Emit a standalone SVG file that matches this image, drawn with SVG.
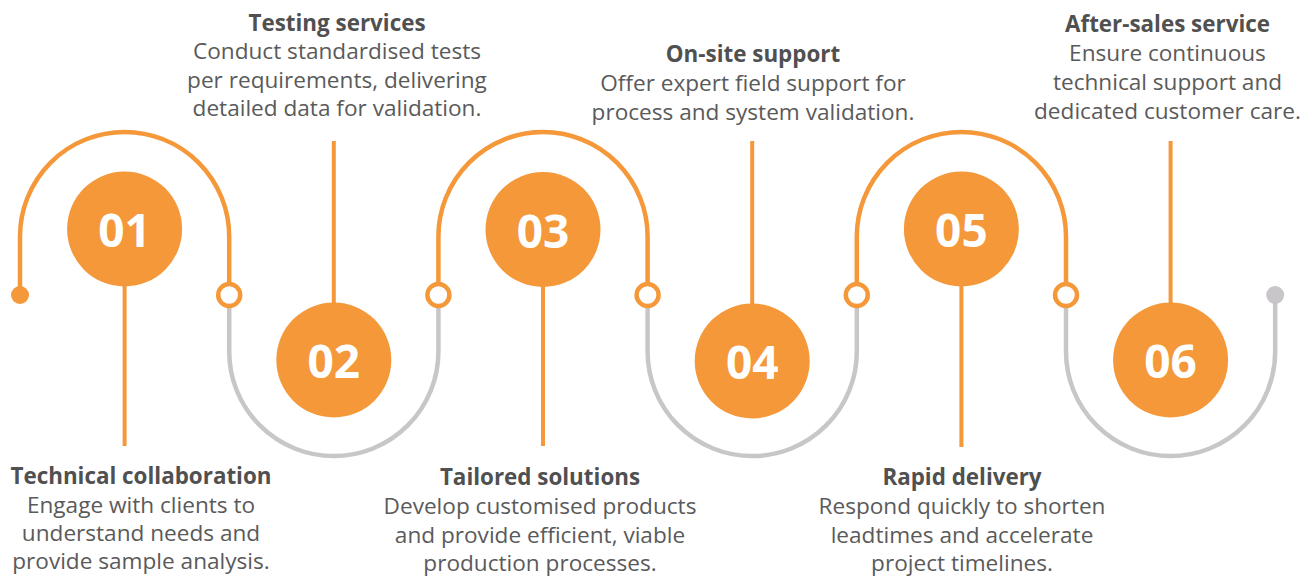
<svg xmlns="http://www.w3.org/2000/svg" width="1312" height="579" viewBox="0 0 1312 579">
<style>
.or{fill:none;stroke:#F4983A;stroke-width:4.5}
.gr{fill:none;stroke:#C8C6C8;stroke-width:4.5}
.stem{stroke:#F4983A;stroke-width:4}
.ring{fill:#fff;stroke:#F4983A;stroke-width:4.5}
.disc{fill:#F4983A}
.num{font-family:"Open Sans","Noto Sans",sans-serif;font-weight:700;font-size:46px;fill:#fff;text-anchor:middle}
.t{font-family:"Open Sans","Noto Sans",sans-serif;font-weight:700;font-size:22.4px;fill:#505050;text-anchor:middle}
.b{font-family:"Open Sans","Noto Sans",sans-serif;font-size:22.6px;fill:#5a5a5a;text-anchor:middle}
</style>
<rect width="1312" height="579" fill="#fff"/>
<g id="connectors">
<path class="or" d="M20 295 L20 236.5 A104.6 104.6 0 0 1 229.2 236.5 L229.2 295"/>
<path class="gr" d="M229.2 295 L229.2 351.5 A104.6 104.6 0 0 0 438.4 351.5 L438.4 295"/>
<path class="or" d="M438.4 295 L438.4 236.5 A104.6 104.6 0 0 1 647.6 236.5 L647.6 295"/>
<path class="gr" d="M647.6 295 L647.6 351.5 A104.6 104.6 0 0 0 856.8 351.5 L856.8 295"/>
<path class="or" d="M856.8 295 L856.8 236.5 A104.6 104.6 0 0 1 1066 236.5 L1066 295"/>
<path class="gr" d="M1066 295 L1066 351.5 A104.6 104.6 0 0 0 1275.2 351.5 L1275.2 295"/>
<line class="stem" x1="124.6" y1="280" x2="124.6" y2="446"/>
<line class="stem" x1="333.8" y1="141" x2="333.8" y2="310"/>
<line class="stem" x1="543" y1="280" x2="543" y2="446"/>
<line class="stem" x1="752.2" y1="141" x2="752.2" y2="310"/>
<line class="stem" x1="961.4" y1="280" x2="961.4" y2="447"/>
<line class="stem" x1="1170.6" y1="141" x2="1170.6" y2="310"/>
<circle class="disc" cx="20" cy="295" r="9"/>
<circle class="ring" cx="229.2" cy="295" r="11"/>
<circle class="ring" cx="438.4" cy="295" r="11"/>
<circle class="ring" cx="647.6" cy="295" r="11"/>
<circle class="ring" cx="856.8" cy="295" r="11"/>
<circle class="ring" cx="1066" cy="295" r="11"/>
<circle cx="1275.2" cy="295" r="9" fill="#C8C6C8"/>
</g>
<g id="node01">
<circle class="disc" cx="124.6" cy="229" r="57.5"/>
<text class="num" x="124.6" y="247">01</text>
<text class="t" x="141" y="484">Technical collaboration</text>
<text class="b" x="141" y="513">Engage with clients to</text>
<text class="b" x="141" y="541">understand needs and</text>
<text class="b" x="141" y="569">provide sample analysis.</text>
</g>
<g id="node02">
<circle class="disc" cx="333.8" cy="360" r="57.5"/>
<text class="num" x="333.8" y="378">02</text>
<text class="t" x="337" y="31">Testing services</text>
<text class="b" x="337" y="59">Conduct standardised tests</text>
<text class="b" x="337" y="87.5">per requirements, delivering</text>
<text class="b" x="337" y="116">detailed data for validation.</text>
</g>
<g id="node03">
<circle class="disc" cx="543" cy="229.5" r="57.5"/>
<text class="num" x="543" y="247.5">03</text>
<text class="t" x="540" y="485">Tailored solutions</text>
<text class="b" x="540" y="514">Develop customised products</text>
<text class="b" x="540" y="542.5">and provide efficient, viable</text>
<text class="b" x="540" y="571">production processes.</text>
</g>
<g id="node04">
<circle class="disc" cx="752.2" cy="361" r="57.5"/>
<text class="num" x="752.2" y="379">04</text>
<text class="t" x="753" y="62">On-site support</text>
<text class="b" x="753" y="91">Offer expert field support for</text>
<text class="b" x="753" y="120">process and system validation.</text>
</g>
<g id="node05">
<circle class="disc" cx="961.4" cy="229" r="57.5"/>
<text class="num" x="961.4" y="247">05</text>
<text class="t" x="962" y="485">Rapid delivery</text>
<text class="b" x="962" y="514">Respond quickly to shorten</text>
<text class="b" x="962" y="542.5">leadtimes and accelerate</text>
<text class="b" x="962" y="571">project timelines.</text>
</g>
<g id="node06">
<circle class="disc" cx="1170.6" cy="360" r="57.5"/>
<text class="num" x="1170.6" y="378">06</text>
<text class="t" x="1167.5" y="32">After-sales service</text>
<text class="b" x="1167.5" y="61">Ensure continuous</text>
<text class="b" x="1167.5" y="90">technical support and</text>
<text class="b" x="1167.5" y="118.5">dedicated customer care.</text>
</g>
</svg>
